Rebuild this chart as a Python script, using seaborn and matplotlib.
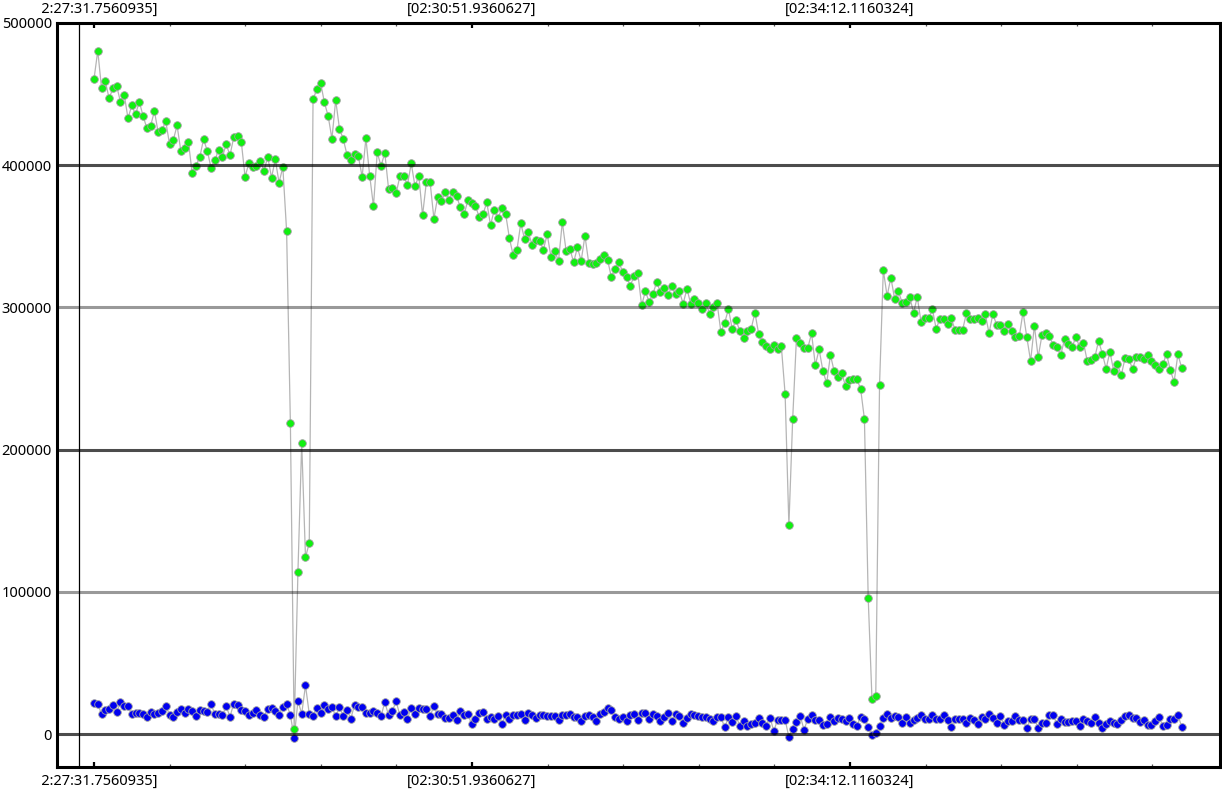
import numpy as np
import pandas as pd
import seaborn as sns
import matplotlib.pyplot as plt
from matplotlib.ticker import MultipleLocator, FixedLocator
from matplotlib.transforms import Bbox

# ---------------- data (values in thousands) ----------------
green_k = [
    460.6, 480.5, 454.0, 459.0, 447.0, 454.0, 455.7, 444.6, 449.6, 433.0,
    442.0, 435.8, 444.6, 434.6, 426.0, 427.8, 438.0, 423.0, 424.5, 431.0,
    414.7, 417.7, 428.0, 409.7, 412.0, 416.5, 394.3, 399.6, 405.5, 418.2,
    410.2, 398.0, 403.4, 410.9, 405.7, 414.9, 406.9, 419.6, 420.5, 416.5,
    391.9, 401.3, 398.5, 399.4, 403.2, 395.7, 406.0, 391.2, 404.1, 387.7,
    398.7,
    353.7, 218.6, 3.4, 114.0, 204.8, 124.3, 134.3,
    446.3, 453.3, 458.0, 444.2, 434.6, 418.6, 445.8, 425.6, 418.4, 407.2,
    403.9, 408.0, 406.2, 391.9, 418.9, 392.6, 371.3, 409.0, 399.4, 408.8,
    383.2, 383.7, 380.2, 392.4, 392.2, 386.1, 401.3, 385.1, 392.6, 364.7,
    388.0, 388.0, 362.4, 377.6, 374.6, 381.3, 375.7,
    381.1, 378.3, 370.4, 365.4, 375.3, 373.2, 371.3, 363.6, 365.4, 373.9,
    357.9, 368.7, 362.6, 370.1, 365.7, 348.6, 336.6, 340.6, 359.1, 348.3,
    352.8, 344.1, 347.2, 346.9, 340.6, 351.4, 335.6, 339.4, 332.6, 360.0,
    339.9, 341.3, 331.7, 342.2, 332.8, 350.4, 331.2, 330.5, 331.2, 334.0,
    336.6, 333.3, 321.1, 327.2, 331.9, 324.7, 321.4, 315.3, 321.9, 324.0,
    301.5, 311.3, 303.8, 309.6, 317.8, 310.6, 313.8, 308.5, 315.0, 309.2,
    311.3, 302.6, 313.1, 302.6, 305.9, 303.1, 299.1, 303.3, 295.6, 300.3,
    302.9,
    282.5, 289.2, 298.9, 284.6, 291.1, 283.4, 278.7, 283.4, 284.8, 296.3,
    281.3, 275.7, 272.6, 270.5, 273.3, 270.5, 272.6, 239.1, 146.8, 221.3,
    278.5, 275.2, 271.4, 271.4, 281.8, 259.3, 270.5, 255.5, 246.6, 266.5,
    255.0, 251.0, 253.6, 244.7, 248.9, 249.6, 249.6, 242.6, 221.5, 95.8,
    24.4, 26.7, 245.4,
    326.3, 308.0, 321.0, 306.0,
    311.3, 303.3, 303.8, 307.3, 296.3, 307.3, 289.5, 292.5, 292.3, 298.6,
    285.0, 292.0, 291.6, 288.5, 292.3, 284.1, 283.9, 284.3, 295.8, 291.8,
    291.6, 292.3, 290.2, 295.3, 281.8, 295.3, 287.8, 287.4, 283.2, 288.1,
    283.2, 279.0, 279.7, 296.8, 279.0, 262.3, 287.1, 264.9, 280.4, 282.0,
    279.7, 273.3, 272.1, 266.7, 277.8, 274.2, 272.4, 279.0, 272.1, 275.2,
    262.3, 263.0, 264.9, 276.4, 267.4, 256.9, 268.8, 255.5, 260.2, 252.2,
    264.2, 263.7, 256.7, 265.1, 264.9, 263.5, 266.3, 262.1, 259.7, 256.9,
    260.0, 267.2, 255.8, 247.7, 267.0, 257.6,
]

blue_k = [
    22.0, 20.9, 14.1, 17.1, 17.8, 20.6, 15.2, 22.3, 19.9, 19.9,
    14.1, 14.8, 14.8, 14.3, 12.2, 15.7, 14.3, 14.5, 16.4, 19.9,
    13.6, 12.2, 15.7, 17.8, 14.5, 17.3, 16.2, 12.4, 17.1, 16.2,
    15.5, 21.1, 13.8, 13.8, 13.1, 19.5, 12.2, 21.3, 20.2, 17.1,
    16.2, 13.4, 14.8, 16.7, 13.6, 12.2, 17.3, 18.3, 16.2, 13.6,
    19.0, 20.9, 13.4, -2.6, 23.2, 14.3, 34.2, 14.1, 12.9, 18.1,
    14.5, 20.6, 17.6, 19.2, 12.4, 19.2, 12.4, 16.9, 10.8, 20.6,
    19.0, 19.0, 14.5, 14.5, 16.2, 14.8, 12.4, 22.5, 13.1, 16.2,
    23.0, 13.1, 15.2, 10.5, 18.5, 14.1, 18.5, 17.8, 17.8, 12.4,
    19.9, 13.8, 13.8, 11.5, 11.5, 13.6, 9.8, 16.2, 13.6, 14.1,
    6.8, 10.8,
    14.5, 15.5, 10.3, 12.2, 10.5, 12.7, 6.8, 13.4, 10.8, 13.6,
    13.6, 13.8, 10.1, 14.8, 13.4, 11.5, 13.6, 13.6, 12.9, 12.4,
    12.4, 9.8, 13.1, 13.1, 14.1, 11.7, 12.2, 9.1, 12.4, 13.6,
    11.7, 8.9, 13.8, 15.2, 18.3, 17.1, 12.2, 10.5, 12.2, 8.9,
    13.4, 14.3, 10.1, 14.5, 15.0, 10.5, 14.3, 12.7, 9.1, 12.2,
    14.8, 9.1, 14.1, 12.7, 8.0, 11.5, 14.1, 13.4, 12.9, 12.2,
    11.7, 10.8, 8.9, 11.7, 11.7, 4.7, 11.7, 8.4, 12.9, 5.4,
    9.1, 5.4, 6.8, 7.5, 11.5, 7.5, 5.9, 11.5, 2.1, 10.1,
    10.1, 10.1, -2.3, 3.8, 8.7, 12.7, 3.0, 10.5, 13.1, 9.6,
    10.1, 6.6, 6.8, 12.2, 9.1, 11.0, 10.5, 9.4, 11.5, 6.8,
    5.9, 12.0, 10.5, 4.9, -0.7, 0.9,
    5.9, 11.3, 14.3, 11.3, 12.9, 11.7, 8.0, 12.2, 8.0, 10.1,
    11.5, 13.1, 10.5, 10.5, 13.6, 10.3, 10.5, 13.1, 10.1, 4.7,
    10.3, 10.3, 10.5, 7.7, 11.3, 9.6, 7.3, 12.0, 10.8, 14.3,
    11.3, 8.0, 12.7, 6.6, 8.9, 8.9, 12.7, 9.6, 9.6, 4.0,
    10.8, 10.5, 4.5, 8.0, 8.0, 13.6, 13.1, 6.8, 10.8, 8.2,
    8.7, 8.9, 8.9, 5.9, 10.8, 8.9, 7.5, 12.2, 7.5, 4.0,
    6.8, 9.4, 7.5, 7.3, 9.6, 12.9, 13.4, 11.3, 11.5, 8.7,
    9.6, 6.1, 6.1, 9.4, 12.0, 5.9, 6.6, 10.5, 10.5, 13.4,
    5.2,
]

SAMPLE_S = 2.0  # one sample every 2 seconds
tick_labels = ["[02:27:31.7560935]", "[02:30:51.9360627]", "[02:34:12.1160324]"]
tick_secs = [0.0, 200.1799692, 400.3599389]  # seconds after first timestamp
y_ticks = [0, 100000, 200000, 300000, 400000, 500000]

n = min(len(green_k), len(blue_k))
df = pd.DataFrame({
    "t": np.arange(n) * SAMPLE_S,
    "green": np.array(green_k[:n]) * 1000,
    "blue": np.array(blue_k[:n]) * 1000,
})

# ---------------- figure ----------------
sns.set_theme(style="white")
plt.rcParams["font.family"] = ["Noto Sans", "DejaVu Sans"]

W, H = 1222, 789
fig = plt.figure(figsize=(W / 100, H / 100), dpi=100)
ax = fig.add_axes([57 / W, 22 / H, (1220 - 57) / W, (766 - 22) / H])

px_per_s = (472 - 94) / tick_secs[1]
ax.set_xlim((57 - 94) / px_per_s, (1220 - 94) / px_per_s)
ax.set_ylim(-23200, 500000)

line_kw = dict(color="#b5b5b5", linewidth=0.9, estimator=None, zorder=2, legend=False)
sns.lineplot(data=df, x="t", y="green", ax=ax, **line_kw)
sns.lineplot(data=df, x="t", y="blue", ax=ax, **line_kw)
sc_kw = dict(s=30, edgecolor="#a0a0a0", linewidth=0.6, zorder=3, legend=False)
sns.scatterplot(data=df, x="t", y="green", ax=ax, color="#10f010", **sc_kw)
sns.scatterplot(data=df, x="t", y="blue", ax=ax, color="#0000f0", **sc_kw)

for y in y_ticks[:-1]:
    dark = (y // 100000) % 2 == 0
    ax.axhline(y, color="black", alpha=0.7 if dark else 0.4, linewidth=2.2, zorder=5)
ax.axvline((79 - 94) / px_per_s, color="black", linewidth=0.9, zorder=5)

ax.set_xlabel("")
ax.set_ylabel("")
ax.xaxis.set_major_locator(FixedLocator(tick_secs))
ax.set_xticklabels(tick_labels)
ax.xaxis.set_minor_locator(MultipleLocator(tick_secs[1] / 5))
ax.set_yticks(y_ticks)
ax.set_yticklabels([str(v) for v in y_ticks])

ax.tick_params(axis="x", which="major", direction="in", length=3.6, width=1.6,
               color="black", top=True, bottom=True, labeltop=True, labelbottom=True,
               pad=4.6, labelsize=10.5, labelcolor="black")
ax.tick_params(axis="x", which="minor", direction="in", length=2.0, width=0.9,
               color="#555555", top=True, bottom=True)
ax.tick_params(axis="y", which="major", length=0, pad=3.6, labelsize=10.5,
               labelcolor="black")

for side in ["left", "right", "top", "bottom"]:
    ax.spines[side].set_visible(True)
    ax.spines[side].set_color("black")
    ax.spines[side].set_linewidth(2.2)

# the first time label is cut off at its left, as in the source
first = ax.xaxis.get_major_ticks()[0]
clip = Bbox.from_extents(41, 0, W, H)
for lab in (first.label1, first.label2):
    lab.set_clip_box(clip)
    lab.set_clip_on(True)

fig.savefig("out.png", dpi=100)
